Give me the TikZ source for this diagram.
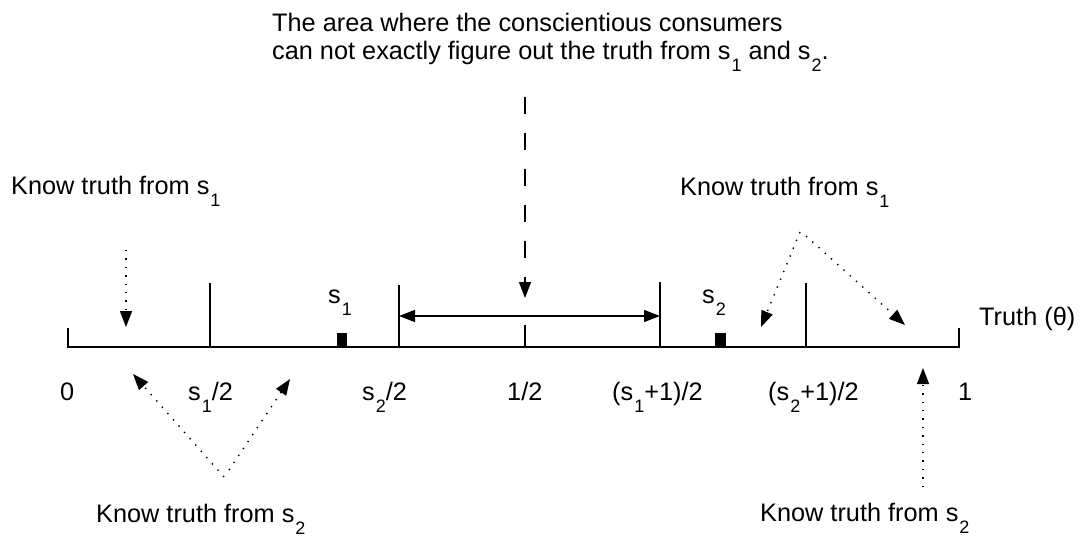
\documentclass[tikz,border=0pt]{standalone}
\usepackage{fontspec}
\setmainfont{Liberation Sans}
\usetikzlibrary{arrows.meta}
\newcommand\lsub[1]{\kern1pt\raisebox{-12.5pt}{\fontsize{18}{18}\selectfont #1}}
\begin{document}
\begin{tikzpicture}[x=1pt,y=-1pt,
  lbl/.style={inner sep=0pt, anchor=base west, font=\fontsize{25.3}{30}\selectfont},
  axis/.style={line width=1.3pt},
  tick/.style={line width=1.2pt},
  tip/.style={-{Triangle[length=16pt,width=12pt]}},
  dots/.style={tip, line width=1.4pt, dash pattern=on 1.4pt off 7pt},
  dashes/.style={tip, line width=1.3pt, dash pattern=on 17pt off 19pt},
  smark/.style={fill=black, draw=none}]
\useasboundingbox (0,0) rectangle (1080,539);
% title
\node[lbl] (title1) at (272,31) {The area where the conscientious consumers};
\node[lbl] (title2) at (272,59) {can not exactly figure out the truth from s\lsub{1} and s\lsub{2}.};
% axis
\coordinate (A0) at (68,347);
\coordinate (A1) at (959,347);
\coordinate (A0t) at (68,328);
\coordinate (A1t) at (959,328);
\draw[axis] (A0t) -- (A0) -- (A1) -- (A1t);
% ticks
\coordinate (t1b) at (210,347); \coordinate (t1t) at (210,283);
\coordinate (t2b) at (399,347); \coordinate (t2t) at (399,285);
\coordinate (t3b) at (525,347); \coordinate (t3t) at (525,325);
\coordinate (t4b) at (660,347); \coordinate (t4t) at (660,282);
\coordinate (t5b) at (806,347); \coordinate (t5t) at (806,283);
\draw[tick] (t1b) -- (t1t);
\draw[tick] (t2b) -- (t2t);
\draw[tick] (t3b) -- (t3t);
\draw[tick] (t4b) -- (t4t);
\draw[tick] (t5b) -- (t5t);
% double arrow
\coordinate (dl) at (399,316);
\coordinate (dr) at (660,316);
\draw[tick, {Triangle[length=16pt,width=12pt]}-{Triangle[length=16pt,width=12pt]}] (dl) -- (dr);
% markers
\fill[smark] (337,333) rectangle (347,347);
\fill[smark] (715,333) rectangle (726,347);
% dashed arrow
\coordinate (dtop) at (525,97);
\coordinate (dtip) at (525,298);
\draw[dashes] (dtop) -- (dtip);
% labels
\node[lbl] (KL1) at (11,194) {Know truth from s\lsub{1}};
\node[lbl] (KR1) at (680,195) {Know truth from s\lsub{1}};
\node[lbl] (KL2) at (96,522) {Know truth from s\lsub{2}};
\node[lbl] (KR2) at (760,521) {Know truth from s\lsub{2}};
\node[lbl] (s1) at (328,303) {s\lsub{1}};
\node[lbl] (s2) at (702,303) {s\lsub{2}};
\node[lbl] (truth) at (979,325) {Truth (θ)};
\node[lbl] (l0) at (60,400) {0};
\node[lbl] (l1) at (188,400) {s\lsub{1}/2};
\node[lbl] (l2) at (362,400) {s\lsub{2}/2};
\node[lbl] (l3) at (507,400) {1/2};
\node[lbl] (l4) at (612,400) {(s\lsub{1}+1)/2};
\node[lbl] (l5) at (768,400) {(s\lsub{2}+1)/2};
\node[lbl] (l6) at (958,400) {1};
% dotted arrows
\coordinate (p1s) at (126,250); \coordinate (p1e) at (126,327);
\draw[dots] (p1s) -- (p1e);
\coordinate (p2s) at (800,232); \coordinate (p2e) at (761,327);
\coordinate (p3s) at (806,236); \coordinate (p3e) at (905,325);
\draw[dots] (p2s) -- (p2e);
\draw[dots] (p3s) -- (p3e);
\coordinate (p4s) at (224,477); \coordinate (p4e) at (133,374);
\coordinate (p5s) at (229,470); \coordinate (p5e) at (290,379);
\draw[dots] (p4s) -- (p4e);
\draw[dots] (p5s) -- (p5e);
\coordinate (p6s) at (923,487); \coordinate (p6e) at (923,368);
\draw[dots] (p6s) -- (p6e);
\end{tikzpicture}
\end{document}
